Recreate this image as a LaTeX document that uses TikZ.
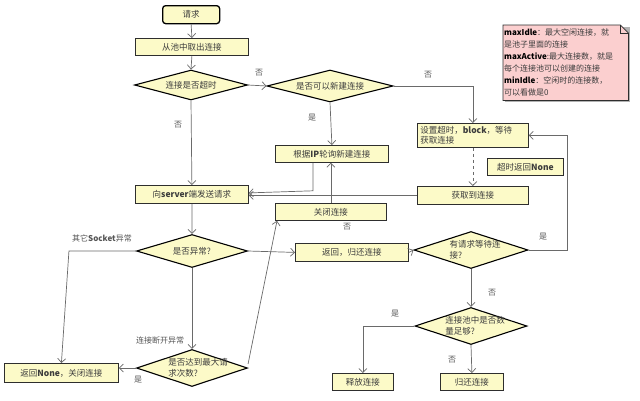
\documentclass[tikz,border=0pt]{standalone}
\usepackage{fontspec}
\setmainfont{Noto Sans CJK SC}
\usetikzlibrary{shapes.geometric,arrows.meta}
\definecolor{yel}{HTML}{FCFAC8}
\definecolor{pink}{HTML}{FBCFCF}
\definecolor{boxline}{HTML}{2E2E2E}
\definecolor{lin}{HTML}{6A6A6A}
\definecolor{txt}{HTML}{3C3C3C}
\definecolor{lbltxt}{HTML}{555555}
\begin{document}
\begin{tikzpicture}[x=1pt,y=-1pt,
  box/.style={draw=boxline, fill=yel, line width=0.8pt, inner sep=1pt, anchor=north west,
    font=\fontsize{8.5}{10.5}\selectfont, text=txt},
  startbox/.style={box, rounded corners=3pt, line width=1.3pt, draw=black},
  dia/.style={diamond, draw=black, fill=yel, line width=1.1pt, inner sep=0pt},
  diatext/.style={font=\fontsize{8.5}{10.5}\selectfont, text=txt, align=left},
  conn/.style={draw=lin, line width=0.7pt, -{Straight Barb[length=4pt,width=8pt]}},
  lbl/.style={font=\fontsize{8}{9}\selectfont, text=lbltxt, inner sep=1pt}
]
\useasboundingbox (0,0) rectangle (640,400);
\fill[white] (0,0) rectangle (640,400);

% boxes
\node[startbox, minimum width=57pt, minimum height=18pt] (start) at (162,5) {请求};
\node[box, minimum width=113pt, minimum height=17pt] (take) at (135,38) {从池中取出连接};
\node[box, minimum width=113pt, minimum height=17pt] (ip) at (275,145) {根据\textbf{IP}轮询新建连接};
\node[box, minimum width=111pt, minimum height=24pt, text width=105pt, align=left] (set) at (417,123) {设置超时，\textbf{block}，等待\\获取连接};
\node[box, minimum width=76pt, minimum height=17pt] (tmo) at (487,158) {超时返回\textbf{None}};
\node[box, minimum width=111pt, minimum height=18pt] (got) at (417,186) {获取到连接};
\node[box, minimum width=113pt, minimum height=18pt] (srv) at (135,185) {向\textbf{server}端发送请求};
\node[box, minimum width=111pt, minimum height=17pt] (close) at (275,203) {关闭连接};
\node[box, minimum width=113pt, minimum height=18pt] (ret) at (295,243) {返回，归还连接};
\node[box, minimum width=61pt, minimum height=17pt] (rel) at (332,373) {释放连接};
\node[box, minimum width=63pt, minimum height=17pt] (back) at (440,373) {归还连接};
\node[box, minimum width=114pt, minimum height=19pt] (none) at (4,363) {返回\textbf{None}，关闭连接};

% diamonds
\node[dia, minimum width=113pt, minimum height=30pt] (d1) at (191,85) {};
\node[diatext] at (d1) {连接是否超时};
\node[dia, minimum width=126pt, minimum height=32pt] (d2) at (330,86) {};
\node[diatext] at (d2) {是否可以新建连接};
\node[dia, minimum width=111pt, minimum height=33pt] (d3) at (192,251) {};
\node[diatext] at (d3) {是否异常?};
\node[dia, minimum width=111pt, minimum height=37pt] (d4) at (192,368) {};
\node[diatext] at ([xshift=6pt]d4) {是否达到最大请\\求次数?};
\node[dia, minimum width=114pt, minimum height=37pt] (d5) at (471,250) {};
\node[diatext] at ([xshift=4pt]d5) {有请求等待连\\接?};
\node[dia, minimum width=112pt, minimum height=37pt] (d6) at (471,326) {};
\node[diatext] at ([xshift=4pt]d6) {连接池中是否数\\量足够?};

% note
\node[anchor=north west, minimum width=125pt, minimum height=75pt, inner sep=0pt] (note) at (503,25) {};
\fill[gray!60] ([shift={(2pt,-2pt)}]note.north west) -- ([shift={(2pt,-2pt)}]note.north east) -- ([shift={(2pt,-2pt)}]note.south east) -- ([shift={(2pt,-2pt)}]note.south west) -- cycle;
\draw[draw=boxline, fill=pink, line width=0.7pt] (note.north west) -- ([xshift=-8pt]note.north east) -- ([yshift=-8pt]note.north east) -- (note.south east) -- (note.south west) -- cycle;
\draw[draw=boxline, line width=0.7pt] ([xshift=-8pt]note.north east) -- ([shift={(-8pt,-8pt)}]note.north east) -- ([yshift=-8pt]note.north east);
\node[anchor=north west, inner sep=0pt, text width=124pt, align=left, font=\fontsize{8}{12}\selectfont, text=txt] (notetext) at ([shift={(1pt,-4pt)}]note.north west)
 {\textcolor{black}{\textbf{maxIdle}}：最大空闲连接，就\\是池子里面的连接\\\textcolor{black}{\textbf{maxActive}}:最大连接数，就是\\每个连接池可以创建的连接\\\textcolor{black}{\textbf{minIdle}}：空闲时的连接数，\\可以看做是0};

% connectors
\draw[conn] (start.south) -- (take.north);
\draw[conn] (take.south) -- (d1.north);
\draw[conn] (d1.east) -- (d2.west);
\node[lbl] at (259,73) {否};
\draw[conn] (d1.south) -- (srv.north);
\node[lbl] at (178,125) {否};
\draw[conn] (d2.south) -- (ip.north);
\node[lbl] at (312,118) {是};
\draw[conn] (d2.east) -| (set.north);
\node[lbl] at (428,75) {否};
\draw[conn, dashed] (set.south) -- (got.north);
\draw[conn] (got.west) -- (got.west -| srv.east);
\draw[conn] ([xshift=-19pt]ip.south) -- ++(0,28) -- ([yshift=1.5pt]srv.east);
\draw[conn] (close.north) -- (close.north |- ip.south);
\draw[conn] (srv.south) -- (d3.north);
\draw[conn] (d3.east) -- (ret.west);
\draw[conn] (ret.east) -- (d5.west);
\draw[conn] (d5.east) -- ++(39,0) |- (set.east);
\node[lbl] at (543,237) {是};
\draw[conn] (d5.south) -- (d6.north);
\node[lbl] at (492,293) {否};
\draw[conn] (d6.west) -| (rel.north);
\node[lbl] at (395,314) {是};
\draw[conn] (d6.south) -- (back.north);
\node[lbl] at (452,360) {否};
\draw[conn] (d3.south) -- (d4.north);
\node[lbl] at (160,340) {连接断开异常};
\draw[conn] (d3.west) -- ++(-67,0) -- (none.north);
\node[lbl] at (102,238) {其它\textbf{Socket}异常};
\draw[conn] (d4.west) -- (d4.west -| none.east);
\node[lbl] at (138,380) {是};
\draw[conn] ([yshift=4pt]d4.east) -- ([xshift=2pt]close.south west);
\node[lbl] at (347,227) {否};
\end{tikzpicture}
\end{document}
